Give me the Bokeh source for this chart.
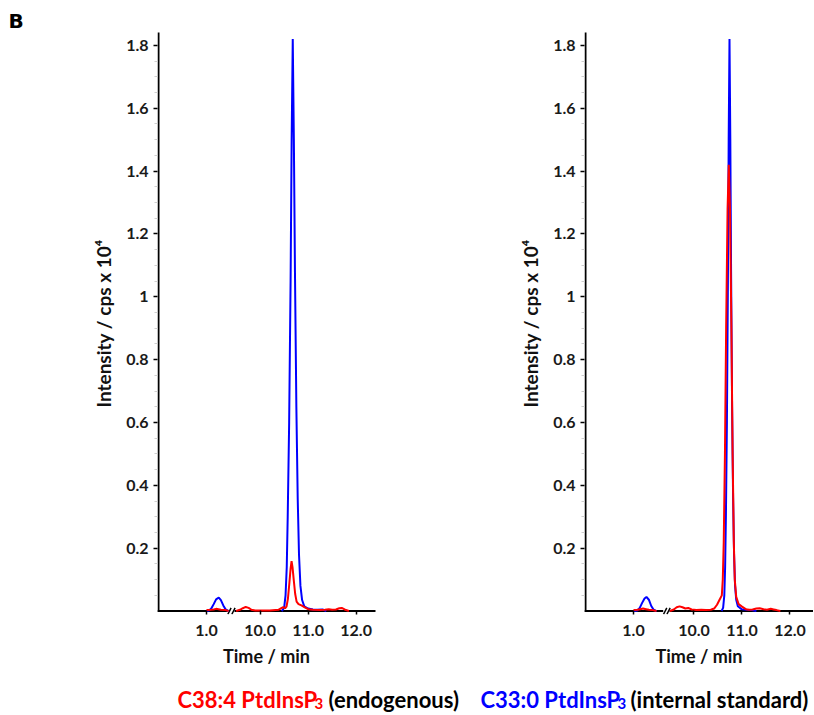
import math
from bokeh.plotting import figure
from bokeh.models import Range1d, FixedTicker, ColumnDataSource
from bokeh.layouts import column, row
from bokeh.embed import file_html
from bokeh.resources import INLINE
from bokeh.core.properties import value

FONT = "Lato"
RED = "#ff0000"
BLUE = "#0000ff"

# ---------------- data (time / min, intensity / cps x 10^4) ----------------
LEFT_BLUE_T = [1.00, 1.05, 1.10, 1.15, 1.20, 1.256, 1.30, 1.35, 1.40, 1.46,
               10.45, 10.50, 10.53, 10.555, 10.575, 10.605, 10.635, 10.657, 10.68,
               10.703, 10.726, 10.755, 10.783, 10.81, 10.84, 10.875, 10.92, 11.00,
               11.10, 11.20, 11.30, 11.38]
LEFT_BLUE_I = [0.0, 0.002, 0.008, 0.022, 0.037, 0.043, 0.035, 0.018, 0.005, 0.0,
               0.0, 0.01, 0.05, 0.14, 0.30, 0.60, 1.05, 1.50, 1.82,
               1.50, 1.08, 0.65, 0.36, 0.18, 0.08, 0.035, 0.015, 0.008,
               0.005, 0.004, 0.005, 0.0]

LEFT_RED_T = [1.00, 1.10, 1.15, 1.20, 1.25, 1.30, 1.40, 1.46,
              9.50, 9.58, 9.64, 9.70, 9.76, 9.82, 9.90, 10.20, 10.38, 10.44, 10.48,
              10.52, 10.55, 10.58, 10.61, 10.635, 10.655, 10.675, 10.70, 10.73, 10.76,
              10.80, 10.86, 10.93, 11.00, 11.10, 11.25, 11.35, 11.43, 11.50, 11.58,
              11.65, 11.70, 11.76, 11.85]
LEFT_RED_I = [0.003, 0.004, 0.005, 0.007, 0.006, 0.004, 0.003, 0.0,
              0.0, 0.004, 0.009, 0.013, 0.010, 0.004, 0.002, 0.002, 0.004, 0.009, 0.012,
              0.009, 0.014, 0.04, 0.09, 0.135, 0.159, 0.14, 0.10, 0.055, 0.03,
              0.022, 0.018, 0.012, 0.006, 0.004, 0.003, 0.004, 0.006, 0.004, 0.005,
              0.009, 0.010, 0.005, 0.0]

RIGHT_BLUE_T = [1.00, 1.08, 1.13, 1.18, 1.23, 1.27, 1.32, 1.37, 1.42, 1.48,
                10.575, 10.607, 10.632, 10.649, 10.665, 10.686, 10.707, 10.723, 10.74,
                10.757, 10.773, 10.794, 10.815, 10.835, 10.856, 10.881, 10.914, 10.99,
                11.10, 11.20, 11.30]
RIGHT_BLUE_I = [0.0, 0.002, 0.01, 0.026, 0.04, 0.045, 0.036, 0.016, 0.004, 0.0,
                0.0, 0.01, 0.05, 0.14, 0.30, 0.60, 1.05, 1.50, 1.82,
                1.50, 1.08, 0.65, 0.36, 0.18, 0.08, 0.035, 0.015, 0.006,
                0.004, 0.003, 0.0]

RIGHT_RED_T = [1.00, 1.08, 1.14, 1.20, 1.26, 1.32, 1.40, 1.48,
               9.50, 9.58, 9.64, 9.70, 9.76, 9.82, 9.88, 9.95, 10.05, 10.15, 10.25,
               10.35, 10.42, 10.48, 10.53, 10.58, 10.60, 10.62, 10.645, 10.67, 10.70,
               10.725, 10.75, 10.78, 10.805, 10.83, 10.85, 10.88, 10.93, 11.00, 11.08,
               11.15, 11.22, 11.30, 11.37, 11.45, 11.52, 11.60, 11.66, 11.72, 11.80]
RIGHT_RED_I = [0.003, 0.004, 0.006, 0.008, 0.006, 0.004, 0.003, 0.0,
               0.0, 0.005, 0.012, 0.015, 0.012, 0.008, 0.010, 0.005, 0.003, 0.004, 0.003,
               0.004, 0.008, 0.02, 0.035, 0.05, 0.10, 0.22, 0.50, 0.90, 1.28,
               1.42, 1.28, 0.90, 0.50, 0.22, 0.10, 0.045, 0.022, 0.014, 0.006,
               0.004, 0.005, 0.008, 0.009, 0.006, 0.004, 0.007, 0.005, 0.003, 0.0]

X_TICKS = [1.0, 10.0, 11.0, 12.0]
X_TICK_LABELS = ["1.0", "10.0", "11.0", "12.0"]
Y_TICKS = [0.2, 0.4, 0.6, 0.8, 1.0, 1.2, 1.4, 1.6, 1.8]
Y_TICK_LABELS = ["0.2", "0.4", "0.6", "0.8", "1", "1.2", "1.4", "1.6", "1.8"]
Y_MINOR_TICKS = [0.05, 0.1, 0.15, 0.25, 0.3, 0.35, 0.45, 0.5, 0.55, 0.65, 0.7, 0.75,
                 0.85, 0.9, 0.95, 1.05, 1.1, 1.15, 1.25, 1.3, 1.35, 1.45, 1.5, 1.55,
                 1.65, 1.7, 1.75]

X_LABEL = "Time / min"
Y_LABEL = "Intensity / cps x 10\u2074"
PANEL_LETTER = "B"
LEGEND_NAMES = ["C38:4 PtdInsP", "C33:0 PtdInsP"]
LEGEND_SUBS = ["3", "3"]
LEGEND_NOTES = ["(endogenous)", "(internal standard)"]
LEGEND_COLORS = [RED, BLUE]

# ---------------- layout constants ----------------
PX_PER_MIN = 48.0
Y_LO, Y_HI = -0.011, 1.841
FRAME_H = 582
HEAD_H = 32
TICK_FONT = "16px"


def to_u(t, off):
    # broken time axis: early segment kept as is, late segment shifted left
    return t if t < 5 else t - 10.0 + off


def trace_xy(ts, vs, off):
    xs, ys, prev = [], [], None
    for t, v in zip(ts, vs):
        if prev is not None and prev < 5 <= t:
            xs.append(float("nan"))
            ys.append(float("nan"))
        xs.append(to_u(t, off))
        ys.append(v)
        prev = t
    return xs, ys


def make_panel(blue_t, blue_i, red_t, red_i, off, brk, border_l, frame_w, border_r):
    u_lo = -1.0 / PX_PER_MIN
    u_hi = (frame_w - 1) / PX_PER_MIN
    p = figure(frame_width=frame_w, frame_height=FRAME_H,
               x_range=Range1d(u_lo, u_hi), y_range=Range1d(Y_LO, Y_HI),
               output_backend="svg", toolbar_location=None,
               min_border_left=border_l, min_border_right=border_r,
               min_border_top=0, min_border_bottom=57)
    p.outline_line_color = None
    p.xgrid.grid_line_color = None
    p.ygrid.grid_line_color = None
    p.background_fill_color = "white"
    p.border_fill_color = "white"

    # ---- axes (ticks and labels from Bokeh, lines drawn below) ----
    xt = [round(to_u(t, off), 4) for t in X_TICKS]
    xa = p.xaxis[0]
    xa.ticker = FixedTicker(ticks=xt)
    xa.major_label_overrides = dict(zip(xt, X_TICK_LABELS))
    xa.axis_line_color = None
    xa.major_tick_in = 4
    xa.major_tick_out = 0
    xa.major_tick_line_width = 1.5
    xa.major_tick_line_color = "black"
    xa.minor_tick_line_color = None
    xa.major_label_standoff = 10
    xa.major_label_text_font = FONT
    xa.major_label_text_font_style = "bold"
    xa.major_label_text_font_size = TICK_FONT
    xa.major_label_text_color = "#1a1a1a"
    xa.axis_label = X_LABEL
    xa.axis_label_text_font = FONT
    xa.axis_label_text_font_style = "bold"
    xa.axis_label_text_font_size = "18px"
    xa.axis_label_text_color = "#111111"
    xa.axis_label_standoff = 6

    ya = p.yaxis[0]
    ya.ticker = FixedTicker(ticks=Y_TICKS, minor_ticks=Y_MINOR_TICKS)
    ya.major_label_overrides = dict(zip(Y_TICKS, Y_TICK_LABELS))
    ya.axis_line_color = None
    ya.major_tick_out = 4
    ya.major_tick_in = 0
    ya.major_tick_line_width = 1.5
    ya.major_tick_line_color = "black"
    ya.minor_tick_out = 3
    ya.minor_tick_in = 0
    ya.minor_tick_line_color = "#cfcfcf"
    ya.major_label_standoff = 5
    ya.major_label_text_font = FONT
    ya.major_label_text_font_style = "bold"
    ya.major_label_text_font_size = TICK_FONT
    ya.major_label_text_color = "#1a1a1a"
    ya.axis_label = Y_LABEL
    ya.axis_label_text_font = FONT
    ya.axis_label_text_font_style = "bold"
    ya.axis_label_text_font_size = "19px"
    ya.axis_label_text_color = "#111111"
    ya.axis_label_standoff = 8

    # ---- axis lines with the break ----
    seg1_end, s1, s2, seg2_start = brk
    p.segment(x0=[0, 0, seg2_start], y0=[0, 0, 0],
              x1=[0, seg1_end, u_hi + 1], y1=[Y_HI + 1, 0, 0],
              line_color="black", line_width=2, line_cap="square")
    dx = 1.6 / PX_PER_MIN
    dy = 3.2 / (FRAME_H / (Y_HI - Y_LO))
    p.segment(x0=[s1 - dx, s2 - dx], y0=[-dy, -dy], x1=[s1 + dx, s2 + dx], y1=[dy, dy],
              line_color="black", line_width=1.5)

    # ---- traces ----
    bx, by = trace_xy(blue_t, blue_i, off)
    rx, ry = trace_xy(red_t, red_i, off)
    p.line(x="x", y="y", source=ColumnDataSource(dict(x=bx, y=by)),
           line_color=BLUE, line_width=2)
    p.line(x="x", y="y", source=ColumnDataSource(dict(x=rx, y=ry)),
           line_color=RED, line_width=2)
    return p


def strip(w, h):
    f = figure(width=w, height=h, x_range=Range1d(0, w), y_range=Range1d(0, h),
               output_backend="svg", toolbar_location=None, min_border=0,
               x_axis_location=None, y_axis_location=None)
    f.grid.visible = False
    f.outline_line_color = None
    return f


# header with the panel letter
head = strip(812, HEAD_H)
head.text(x=[8], y=[12], text=[PANEL_LETTER], text_color="black",
          text_font=value("DejaVu Sans"), text_font_style="bold", text_font_size="20px",
          text_baseline="alphabetic", text_align="left")

p1 = make_panel(LEFT_BLUE_T, LEFT_BLUE_I, LEFT_RED_T, LEFT_RED_I, 2.117,
                (1.417, 1.479, 1.562, 1.604), 157, 218, 60)
p2 = make_panel(RIGHT_BLUE_T, RIGHT_BLUE_I, RIGHT_RED_T, RIGHT_RED_I, 2.26,
                (1.598, 1.66, 1.73, 1.771), 149, 229, 0)

# legend strip
LEG_W, LEG_H = 812, 43
leg = strip(LEG_W, LEG_H)
name_x = [177, 480]
sub_x = [314, 617]
note_x = [328, 630]
leg.text(x=name_x, y=[15, 15], text=LEGEND_NAMES, text_color=LEGEND_COLORS,
         text_font=value(FONT), text_font_style="bold", text_font_size="22px",
         text_baseline="alphabetic", text_align="left")
leg.text(x=sub_x, y=[11, 11], text=LEGEND_SUBS, text_color=LEGEND_COLORS,
         text_font=value(FONT), text_font_style="bold", text_font_size="15px",
         text_baseline="alphabetic", text_align="left")
leg.text(x=note_x, y=[15, 15], text=LEGEND_NOTES, text_color="black",
         text_font=value(FONT), text_font_style="bold", text_font_size="22px",
         text_baseline="alphabetic", text_align="left")

layout = column(head, row(p1, p2), leg)
open("out.html", "w").write(file_html(layout, INLINE))
